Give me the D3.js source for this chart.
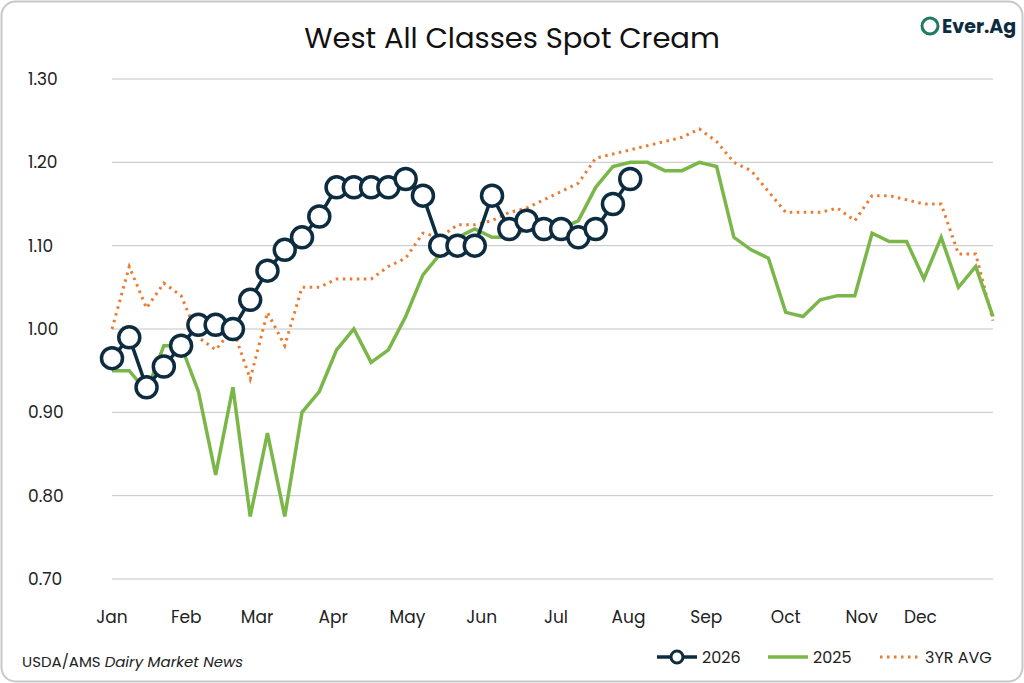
<!DOCTYPE html>
<html><head><meta charset="utf-8">
<script src="https://cdn.jsdelivr.net/npm/d3@7"></script>
<style>body{margin:0;background:#fff;font-family:Poppins,"Open Sans",Lato,sans-serif}</style>
</head><body><div id="chart"></div>
<script>
const months = ["Jan","Feb","Mar","Apr","May","Jun","Jul","Aug","Sep","Oct","Nov","Dec"]
const monthWeeks = [0,4.3,8.4,12.8,17.1,21.4,25.7,29.9,34.4,39,43.4,46.8]
const yTicks = [0.70,0.80,0.90,1.00,1.10,1.20,1.30]
const s2026 = [0.965,0.99,0.93,0.955,0.98,1.005,1.005,1.00,1.035,1.07,1.095,1.11,1.135,1.17,1.17,1.17,1.17,1.18,1.16,1.10,1.10,1.10,1.16,1.12,1.13,1.12,1.12,1.11,1.12,1.15,1.18]
const s2025 = [0.95,0.95,0.925,0.98,0.98,0.925,0.825,0.93,0.775,0.875,0.775,0.90,0.925,0.975,1.00,0.96,0.975,1.015,1.065,1.09,1.11,1.12,1.11,1.11,1.12,1.12,1.12,1.13,1.17,1.195,1.20,1.20,1.19,1.19,1.20,1.195,1.11,1.095,1.085,1.02,1.015,1.035,1.04,1.04,1.115,1.105,1.105,1.06,1.11,1.05,1.075,1.015]
const avg3 = [1.00,1.075,1.025,1.055,1.04,0.99,0.975,1.00,0.94,1.02,0.98,1.05,1.05,1.06,1.06,1.06,1.075,1.085,1.115,1.11,1.125,1.125,1.13,1.14,1.145,1.155,1.165,1.175,1.205,1.21,1.215,1.22,1.225,1.23,1.24,1.225,1.20,1.19,1.165,1.14,1.14,1.14,1.145,1.13,1.16,1.16,1.155,1.15,1.15,1.09,1.09,1.01]

const W = 1024, H = 683
const svg = d3.select("#chart").append("svg").attr("width", W).attr("height", H)
svg.append("rect").attr("x",1.5).attr("y",1.5).attr("width",W-3).attr("height",H-3)
  .attr("rx",14).attr("fill","#fff").attr("stroke","#c8c8c8").attr("stroke-width",2)

const x = d3.scaleLinear().domain([0,51]).range([112,993])
const y = d3.scaleLinear().domain([0.70,1.30]).range([579,79])

// grid
svg.append("g").selectAll("line").data(yTicks).join("line")
  .attr("x1",112).attr("x2",993).attr("y1",d=>y(d)).attr("y2",d=>y(d))
  .attr("stroke","#c4c4c4").attr("stroke-width",1)
svg.append("g").selectAll("text").data(yTicks).join("text")
  .attr("x",28).attr("y",d=>y(d)+6).attr("font-size",17).attr("fill","#222")
  .text(d=>d.toFixed(2))
svg.append("g").selectAll("text").data(months).join("text")
  .attr("x",(d,i)=>x(monthWeeks[i])).attr("y",623).attr("text-anchor","middle")
  .attr("font-size",17).attr("fill","#222").text(d=>d)

const line = d3.line().x((d,i)=>x(i)).y(d=>y(d))
svg.append("path").datum(avg3).attr("d",line).attr("fill","none")
  .attr("stroke","#ec7a2f").attr("stroke-width",3).attr("stroke-dasharray","2.5,4.5")
svg.append("path").datum(s2025).attr("d",line).attr("fill","none")
  .attr("stroke","#7ab648").attr("stroke-width",3.5)
svg.append("path").datum(s2026).attr("d",line).attr("fill","none")
  .attr("stroke","#0d2c40").attr("stroke-width",3.5)
svg.append("g").selectAll("circle").data(s2026).join("circle")
  .attr("cx",(d,i)=>x(i)).attr("cy",d=>y(d)).attr("r",10.5)
  .attr("fill","#fff").attr("stroke","#0d2c40").attr("stroke-width",3.5)

svg.append("text").attr("x",512).attr("y",48).attr("text-anchor","middle")
  .attr("font-size",29).attr("fill","#111").text("West All Classes Spot Cream")

// logo
const lg = svg.append("g").attr("transform","translate(930,26)")
lg.append("circle").attr("cx",0).attr("cy",0).attr("r",8).attr("fill","none").attr("stroke","#1f7a63").attr("stroke-width",3)
lg.append("text").attr("x",12).attr("y",7).attr("font-size",19).attr("font-weight",700).attr("fill","#0d2c40").text("Ever.Ag")

const src = svg.append("text").attr("x",22).attr("y",667).attr("font-size",15).attr("fill","#222")
src.append("tspan").text("USDA/AMS ")
src.append("tspan").attr("font-style","italic").text("Dairy Market News")

// legend
const leg = svg.append("g")
leg.append("line").attr("x1",657).attr("x2",697).attr("y1",657).attr("y2",657).attr("stroke","#0d2c40").attr("stroke-width",3.5)
leg.append("circle").attr("cx",677).attr("cy",657).attr("r",6).attr("fill","#fff").attr("stroke","#0d2c40").attr("stroke-width",3)
leg.append("text").attr("x",702).attr("y",663).attr("font-size",16).attr("fill","#222").text("2026")
leg.append("line").attr("x1",768).attr("x2",808).attr("y1",657).attr("y2",657).attr("stroke","#7ab648").attr("stroke-width",3.5)
leg.append("text").attr("x",813).attr("y",663).attr("font-size",16).attr("fill","#222").text("2025")
leg.append("line").attr("x1",880).attr("x2",920).attr("y1",657).attr("y2",657).attr("stroke","#ec7a2f").attr("stroke-width",3).attr("stroke-dasharray","2.5,4.5")
leg.append("text").attr("x",925).attr("y",663).attr("font-size",16).attr("fill","#222").text("3YR AVG")
</script></body></html>
